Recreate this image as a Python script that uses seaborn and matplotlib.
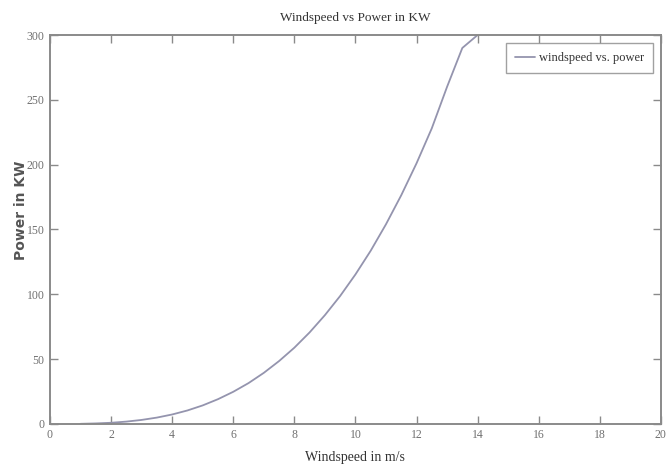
import matplotlib
matplotlib.use("Agg")
import matplotlib.pyplot as plt
import seaborn as sns
import pandas as pd

# Wind turbine power curve: wind speed (m/s) vs. output power (kW)
windspeed = [1.0, 1.5, 2.0, 2.5, 3.0, 3.5, 4.0, 4.5, 5.0, 5.5, 6.0, 6.5, 7.0,
             7.5, 8.0, 8.5, 9.0, 9.5, 10.0, 10.5, 11.0, 11.5, 12.0, 12.5,
             13.0, 13.5, 14.0]
power_kw = [0.1, 0.4, 0.9, 1.8, 3.1, 4.9, 7.3, 10.4, 14.3, 19.1, 24.8, 31.5,
            39.4, 48.5, 58.8, 70.6, 83.9, 98.7, 115.3, 133.6, 154.0, 176.4,
            201.0, 228.0, 260.0, 290.0, 300.0]

df = pd.DataFrame({"windspeed": windspeed, "power": power_kw})

sns.set_theme(style="white")
plt.rcParams["font.family"] = ["Liberation Serif", "DejaVu Serif"]

fig = plt.figure(figsize=(6.72, 4.70), dpi=100)
ax = fig.add_axes([0.0744, 0.098, 0.909, 0.8275])

sns.lineplot(data=df, x="windspeed", y="power", ax=ax, color="#9494ae",
             linewidth=1.3, label="windspeed vs. power")

ax.set_xlim(0, 20)
ax.set_ylim(0, 300)
ax.set_xticks(range(0, 21, 2))
ax.set_yticks(range(0, 301, 50))

for s in ax.spines.values():
    s.set_color("#8a8a8a")
    s.set_linewidth(1.4)
    s.set_visible(True)

ax.tick_params(direction="in", length=6, width=1.0, color="#8a8a8a",
               labelsize=8.5, labelcolor="#707070", top=True, right=True,
               bottom=True, left=True, pad=4)

ax.set_title("Windspeed vs Power in KW", fontsize=9.5, color="#333333", pad=10)
ax.set_xlabel("Windspeed in m/s", fontsize=10, color="#333333", labelpad=7)
ax.set_ylabel("Power in KW", fontsize=10, color="#555555", fontweight="bold",
              family=["DejaVu Sans"])
ax.yaxis.set_label_coords(-0.036, 0.55)

leg = ax.legend(loc="upper right", fontsize=9, frameon=True, fancybox=False,
                handlelength=1.6, handletextpad=0.3, borderpad=0.75,
                borderaxespad=0.6)
leg.get_frame().set_edgecolor("#8a8a8a")
leg.get_frame().set_linewidth(1.0)
for t in leg.get_texts():
    t.set_color("#333333")

fig.savefig("out.png", dpi=100)
